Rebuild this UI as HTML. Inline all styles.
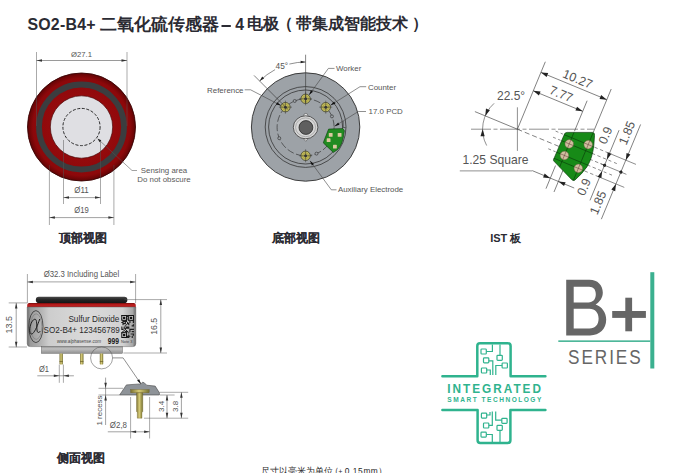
<!DOCTYPE html>
<html><head><meta charset="utf-8"><style>
html,body{margin:0;padding:0;background:#fff;width:682px;height:473px;overflow:hidden}
svg{position:absolute;left:0;top:0;display:block}
</style></head><body>
<svg width="682" height="473" viewBox="0 0 682 473">
<text y="29.3" font-family="Liberation Sans, sans-serif" font-weight="bold" fill="#2b2b33"><tspan x="27.4" y="30" font-size="15.9" letter-spacing="0.25">SO2-B4+</tspan><tspan x="99.5" font-size="16.6">二氧化硫传感器</tspan><tspan x="235.2" y="29.8" font-size="15.8">4</tspan><tspan x="246.5" y="29.3" font-size="16">电极</tspan><tspan x="276.5" font-size="16">（</tspan><tspan x="296" font-size="16.3">带集成智能技术</tspan><tspan x="412" font-size="16">）</tspan></text>
<rect x="221.5" y="25" width="9.3" height="2" fill="#2b2b33"/>
<text x="58.6" y="241.9" font-size="11.6" font-weight="bold" fill="#2b2b33" stroke="#2b2b33" stroke-width="0.1" font-family="Liberation Sans, sans-serif">顶部视图</text>
<text x="271.8" y="241.9" font-size="11.6" font-weight="bold" fill="#2b2b33" stroke="#2b2b33" stroke-width="0.1" font-family="Liberation Sans, sans-serif">底部视图</text>
<text x="490.2" y="242.3" font-weight="bold" fill="#2b2b33" font-family="Liberation Sans, sans-serif"><tspan font-size="11">IST </tspan><tspan font-size="11.4">板</tspan></text>
<text x="57" y="462.2" font-size="11.6" font-weight="bold" fill="#2b2b33" stroke="#2b2b33" stroke-width="0.1" font-family="Liberation Sans, sans-serif">侧面视图</text>
<defs><radialGradient id="redg" cx="81.5" cy="127" r="54" gradientUnits="userSpaceOnUse"><stop offset="0" stop-color="#940a0c"/><stop offset="0.6" stop-color="#940a0c"/><stop offset="0.9" stop-color="#8c080a"/><stop offset="1" stop-color="#600405"/></radialGradient></defs>
<circle cx="81.5" cy="127" r="54" fill="url(#redg)" stroke="#3a0404" stroke-width="0.9"/>
<circle cx="81.5" cy="127" r="42.5" fill="none" stroke="#3b3d3f" stroke-width="5.8"/>
<circle cx="81.5" cy="127" r="31.2" fill="#dfdfe3" stroke="#4a0808" stroke-width="0.7"/>
<circle cx="81.5" cy="127" r="18.6" fill="none" stroke="#151515" stroke-width="0.9" stroke-dasharray="3,1.6"/>
<line x1="36.50" y1="52.00" x2="36.50" y2="126.00" stroke="#555" stroke-width="0.5" />
<line x1="127.00" y1="52.00" x2="127.00" y2="126.00" stroke="#555" stroke-width="0.5" />
<line x1="36.50" y1="60.50" x2="127.00" y2="60.50" stroke="#555" stroke-width="0.6" />
<path d="M36.50,60.50 L42.00,59.25 L42.00,61.75Z" fill="#333"/>
<path d="M127.00,60.50 L121.50,61.75 L121.50,59.25Z" fill="#333"/>
<text x="81.50" y="56.80" font-size="7.9" fill="#555" text-anchor="middle" font-family="Liberation Sans, sans-serif" textLength="21" lengthAdjust="spacingAndGlyphs">Ø27.1</text>
<line x1="63.50" y1="140.00" x2="63.50" y2="204.00" stroke="#555" stroke-width="0.5" />
<line x1="100.50" y1="140.00" x2="100.50" y2="204.00" stroke="#555" stroke-width="0.5" />
<line x1="63.50" y1="197.60" x2="100.50" y2="197.60" stroke="#555" stroke-width="0.55" />
<path d="M63.50,197.60 L69.00,196.35 L69.00,198.85Z" fill="#333"/>
<path d="M100.50,197.60 L95.00,198.85 L95.00,196.35Z" fill="#333"/>
<text x="81.50" y="193.10" font-size="8.3" fill="#555" text-anchor="middle" font-family="Liberation Sans, sans-serif" textLength="14.5" lengthAdjust="spacingAndGlyphs">Ø11</text>
<line x1="49.40" y1="165.00" x2="49.40" y2="225.00" stroke="#555" stroke-width="0.5" />
<line x1="113.90" y1="165.00" x2="113.90" y2="225.00" stroke="#555" stroke-width="0.5" />
<line x1="49.40" y1="217.60" x2="113.90" y2="217.60" stroke="#555" stroke-width="0.55" />
<path d="M49.40,217.60 L54.90,216.35 L54.90,218.85Z" fill="#333"/>
<path d="M113.90,217.60 L108.40,218.85 L108.40,216.35Z" fill="#333"/>
<text x="81.50" y="213.00" font-size="8.3" fill="#555" text-anchor="middle" font-family="Liberation Sans, sans-serif" textLength="14.5" lengthAdjust="spacingAndGlyphs">Ø19</text>
<polyline points="98.5,139.5 132,170.5 137,170.5" fill="none" stroke="#555" stroke-width="0.55"/>
<path d="M97.50,138.50 L101.32,140.27 L99.55,142.17Z" fill="#222"/>
<text x="164.00" y="173.10" font-size="7.9" fill="#5a5a5a" text-anchor="middle" font-family="Liberation Sans, sans-serif" >Sensing area</text>
<text x="164.00" y="181.80" font-size="7.9" fill="#5a5a5a" text-anchor="middle" font-family="Liberation Sans, sans-serif" >Do not obscure</text>
<circle cx="305.6" cy="127" r="54.2" fill="#9da2a7" stroke="#2e2e2e" stroke-width="0.9"/>
<circle cx="305.6" cy="127" r="40.4" fill="none" stroke="#2e2e2e" stroke-width="0.75"/>
<circle cx="305.6" cy="127" r="37" fill="none" stroke="#2e2e2e" stroke-width="0.75"/>
<path d="M343.2,121 L343.2,127.5 L345.5,127.5" fill="none" stroke="#2e2e2e" stroke-width="0.6"/>
<circle cx="305.6" cy="127.3" r="28.5" fill="none" stroke="#2e2e2e" stroke-width="0.65" stroke-dasharray="7,2.5"/>
<circle cx="305.8" cy="115.4" r="2" fill="#e4e4e4" stroke="#444" stroke-width="0.5"/>
<path d="M303.3,138.5 L305.8,141.3 L308.3,138.5 Z" fill="#e4e4e4" stroke="#444" stroke-width="0.5"/>
<ellipse cx="305.6" cy="127.3" rx="12.3" ry="11.5" fill="#d6d6d6" stroke="#3a3a3a" stroke-width="0.8"/>
<ellipse cx="305.6" cy="127.3" rx="10" ry="9.4" fill="none" stroke="#9a9a9a" stroke-width="0.7"/>
<circle cx="305.90000000000003" cy="127.5" r="6.9" fill="#5f5f5f" stroke="#2a2a2a" stroke-width="0.8"/>
<circle cx="294.69" cy="100.97" r="1.5" fill="#9da2a7" stroke="#2a2a2a" stroke-width="0.6"/>
<circle cx="331.93" cy="116.39" r="1.5" fill="#9da2a7" stroke="#2a2a2a" stroke-width="0.6"/>
<circle cx="316.51" cy="153.63" r="1.5" fill="#9da2a7" stroke="#2a2a2a" stroke-width="0.6"/>
<circle cx="279.27" cy="138.21" r="1.5" fill="#9da2a7" stroke="#2a2a2a" stroke-width="0.6"/>
<path d="M328.6,129.1 L342.8,128.6 L344.4,130.7 Q343.6,137.5 341.8,142.9 Q340,147 337.5,149.7 L333.3,152.4 L323.3,142.9 L323.8,141.3 Z" fill="#218b21" stroke="#0e3e0e" stroke-width="0.6"/>
<rect x="328.8" y="133.0" width="3.8" height="3.8" rx="0.6" fill="#dcc8a0"/>
<rect x="337.70000000000005" y="133.0" width="3.8" height="3.8" rx="0.6" fill="#dcc8a0"/>
<rect x="326.70000000000005" y="138.29999999999998" width="3.8" height="3.8" rx="0.6" fill="#dcc8a0"/>
<rect x="333.0" y="144.7" width="3.8" height="3.8" rx="0.6" fill="#dcc8a0"/>
<circle cx="305.60" cy="98.80" r="4.7" fill="#c4be60" stroke="#3a3a20" stroke-width="0.7"/>
<circle cx="305.60" cy="98.80" r="2.9" fill="none" stroke="#a8a040" stroke-width="0.8"/>
<circle cx="305.60" cy="98.80" r="1.5" fill="#3a3a35"/>
<line x1="299.10" y1="98.80" x2="312.10" y2="98.80" stroke="#333" stroke-width="0.5" />
<line x1="305.60" y1="92.30" x2="305.60" y2="105.30" stroke="#333" stroke-width="0.5" />
<circle cx="285.45" cy="107.15" r="4.7" fill="#c4be60" stroke="#3a3a20" stroke-width="0.7"/>
<circle cx="285.45" cy="107.15" r="2.9" fill="none" stroke="#a8a040" stroke-width="0.8"/>
<circle cx="285.45" cy="107.15" r="1.5" fill="#3a3a35"/>
<line x1="278.95" y1="107.15" x2="291.95" y2="107.15" stroke="#333" stroke-width="0.5" />
<line x1="285.45" y1="100.65" x2="285.45" y2="113.65" stroke="#333" stroke-width="0.5" />
<circle cx="325.75" cy="107.15" r="4.7" fill="#c4be60" stroke="#3a3a20" stroke-width="0.7"/>
<circle cx="325.75" cy="107.15" r="2.9" fill="none" stroke="#a8a040" stroke-width="0.8"/>
<circle cx="325.75" cy="107.15" r="1.5" fill="#3a3a35"/>
<line x1="319.25" y1="107.15" x2="332.25" y2="107.15" stroke="#333" stroke-width="0.5" />
<line x1="325.75" y1="100.65" x2="325.75" y2="113.65" stroke="#333" stroke-width="0.5" />
<circle cx="305.60" cy="155.80" r="4.7" fill="#c4be60" stroke="#3a3a20" stroke-width="0.7"/>
<circle cx="305.60" cy="155.80" r="2.9" fill="none" stroke="#a8a040" stroke-width="0.8"/>
<circle cx="305.60" cy="155.80" r="1.5" fill="#3a3a35"/>
<line x1="299.10" y1="155.80" x2="312.10" y2="155.80" stroke="#333" stroke-width="0.5" />
<line x1="305.60" y1="149.30" x2="305.60" y2="162.30" stroke="#333" stroke-width="0.5" />
<line x1="305.60" y1="54.70" x2="305.60" y2="103.00" stroke="#333" stroke-width="0.6" />
<line x1="254.00" y1="75.40" x2="288.00" y2="109.50" stroke="#333" stroke-width="0.6" />
<path d="M259.64,81.04 A65,65 0 0 1 275.08,69.61" fill="none" stroke="#444" stroke-width="0.6"/>
<path d="M289.33,64.07 A65,65 0 0 1 305.60,62.00" fill="none" stroke="#444" stroke-width="0.6"/>
<path d="M259.64,81.04 L262.25,76.58 L264.09,78.42Z" fill="#222"/>
<path d="M305.60,62.00 L300.60,63.30 L300.60,60.70Z" fill="#222"/>
<text x="281.80" y="68.60" font-size="8.3" fill="#555" text-anchor="middle" font-family="Liberation Sans, sans-serif" >45°</text>
<polyline points="244.70,89.80 250.60,89.80 281.00,105.60" fill="none" stroke="#444" stroke-width="0.6"/>
<path d="M281.00,105.60 L275.96,104.45 L277.16,102.14Z" fill="#111"/>
<text x="243.50" y="93.40" font-size="7.9" fill="#555" text-anchor="end" font-family="Liberation Sans, sans-serif" >Reference</text>
<polyline points="334.50,68.40 328.40,68.40 309.00,95.00" fill="none" stroke="#444" stroke-width="0.6"/>
<path d="M309.00,95.00 L310.90,90.19 L313.00,91.73Z" fill="#111"/>
<text x="336.00" y="71.30" font-size="7.9" fill="#555" text-anchor="start" font-family="Liberation Sans, sans-serif" >Worker</text>
<polyline points="366.20,86.70 360.00,86.70 330.50,105.30" fill="none" stroke="#444" stroke-width="0.6"/>
<path d="M330.50,105.30 L334.04,101.53 L335.42,103.73Z" fill="#111"/>
<text x="368.00" y="89.60" font-size="7.9" fill="#555" text-anchor="start" font-family="Liberation Sans, sans-serif" >Counter</text>
<polyline points="366.00,111.50 358.30,111.50 334.60,126.30" fill="none" stroke="#444" stroke-width="0.6"/>
<path d="M334.60,126.30 L338.15,122.55 L339.53,124.75Z" fill="#111"/>
<text x="368.60" y="114.40" font-size="7.9" fill="#555" text-anchor="start" font-family="Liberation Sans, sans-serif" >17.0 PCD</text>
<polyline points="336.50,189.80 331.30,189.80 310.00,160.80" fill="none" stroke="#444" stroke-width="0.6"/>
<path d="M310.00,160.80 L314.01,164.06 L311.91,165.60Z" fill="#111"/>
<text x="337.90" y="192.30" font-size="7.9" fill="#555" text-anchor="start" font-family="Liberation Sans, sans-serif" >Auxiliary Electrode</text>
<line x1="471.00" y1="129.20" x2="594.00" y2="129.20" stroke="#555" stroke-width="0.65" stroke-dasharray="20,2.5,4,2.5"/>
<line x1="517.40" y1="107.30" x2="517.40" y2="150.90" stroke="#444" stroke-width="0.6" />
<path d="M494.11,103.34 A34.8,34.8 0 0 0 486.67,145.54" fill="none" stroke="#444" stroke-width="0.6"/>
<path d="M485.25,115.88 L485.99,108.61 L489.87,110.22Z" fill="#222"/>
<path d="M482.60,129.20 L484.70,136.20 L480.50,136.20Z" fill="#222"/>
<text x="497.00" y="100.20" font-size="12" fill="#555" text-anchor="start" font-family="Liberation Sans, sans-serif" >22.5°</text>
<line x1="459.80" y1="170.90" x2="532.00" y2="170.90" stroke="#444" stroke-width="0.6" />
<text x="462.50" y="164.10" font-size="12.1" fill="#555" text-anchor="start" font-family="Liberation Sans, sans-serif" >1.25 Square</text>
<g transform="translate(517.4,129.2) rotate(22.5)">
<line x1="-46.00" y1="0.00" x2="0.00" y2="0.00" stroke="#444" stroke-width="0.6" />
<line x1="0.00" y1="0.00" x2="52.00" y2="0.00" stroke="#444" stroke-width="0.6" stroke-dasharray="5,3"/>
<line x1="0.00" y1="0.00" x2="0.00" y2="-73.00" stroke="#444" stroke-width="0.6" />
<line x1="0.00" y1="-61.50" x2="71.30" y2="-61.50" stroke="#444" stroke-width="0.6" />
<path d="M0.00,-61.50 L7.00,-63.60 L7.00,-59.40Z" fill="#222"/>
<path d="M71.30,-61.50 L64.30,-59.40 L64.30,-63.60Z" fill="#222"/>
<line x1="71.30" y1="-26.00" x2="71.30" y2="-73.00" stroke="#444" stroke-width="0.6" />
<text x="36.5" y="-65.1" font-size="12.4" fill="#555" text-anchor="middle" font-family="Liberation Sans, sans-serif">10.27</text>
<line x1="0.00" y1="-41.50" x2="53.50" y2="-41.50" stroke="#444" stroke-width="0.6" />
<path d="M0.00,-41.50 L7.00,-43.60 L7.00,-39.40Z" fill="#222"/>
<path d="M53.50,-41.50 L46.50,-39.40 L46.50,-43.60Z" fill="#222"/>
<line x1="53.50" y1="-20.00" x2="53.50" y2="-53.00" stroke="#444" stroke-width="0.6" />
<text x="27" y="-45.1" font-size="12.4" fill="#555" text-anchor="middle" font-family="Liberation Sans, sans-serif">7.77</text>
<line x1="49.15" y1="19.00" x2="49.15" y2="44.00" stroke="#444" stroke-width="0.6" />
<line x1="57.85" y1="19.00" x2="57.85" y2="44.00" stroke="#444" stroke-width="0.6" />
<line x1="29.50" y1="32.60" x2="75.00" y2="32.60" stroke="#444" stroke-width="0.6" />
<path d="M49.15,32.60 L42.15,34.70 L42.15,30.50Z" fill="#222"/>
<path d="M57.85,32.60 L64.85,30.50 L64.85,34.70Z" fill="#222"/>
<line x1="78.00" y1="-12.86" x2="96.00" y2="-12.86" stroke="#444" stroke-width="0.55" stroke-dasharray="3.5,2.5"/>
<line x1="78.00" y1="-6.26" x2="96.00" y2="-6.26" stroke="#444" stroke-width="0.55" stroke-dasharray="3.5,2.5"/>
<line x1="78.00" y1="0.00" x2="96.00" y2="0.00" stroke="#444" stroke-width="0.55" stroke-dasharray="3.5,2.5"/>
<line x1="78.00" y1="6.26" x2="96.00" y2="6.26" stroke="#444" stroke-width="0.55" stroke-dasharray="3.5,2.5"/>
<line x1="78.00" y1="12.86" x2="96.00" y2="12.86" stroke="#444" stroke-width="0.55" stroke-dasharray="3.5,2.5"/>
<line x1="96.00" y1="-12.86" x2="123.00" y2="-12.86" stroke="#444" stroke-width="0.55" />
<line x1="90.00" y1="0.00" x2="118.00" y2="0.00" stroke="#444" stroke-width="0.55" />
<line x1="96.00" y1="12.86" x2="121.00" y2="12.86" stroke="#444" stroke-width="0.55" />
<line x1="96.00" y1="-6.26" x2="108.00" y2="-6.26" stroke="#444" stroke-width="0.55" stroke-dasharray="3,3"/>
<line x1="96.00" y1="6.26" x2="108.00" y2="6.26" stroke="#444" stroke-width="0.55" stroke-dasharray="3,3"/>
<line x1="94.30" y1="-38.00" x2="94.30" y2="0.00" stroke="#444" stroke-width="0.6" />
<path d="M94.30,-6.26 L92.20,-13.26 L96.40,-13.26Z" fill="#222"/>
<circle cx="94.3" cy="0" r="1.6" fill="#222"/>
<line x1="94.30" y1="38.00" x2="94.30" y2="6.26" stroke="#444" stroke-width="0.6" />
<path d="M94.30,6.26 L96.40,13.26 L92.20,13.26Z" fill="#222"/>
<line x1="94.30" y1="0.00" x2="94.30" y2="6.26" stroke="#444" stroke-width="0.6" />
<line x1="112.00" y1="-51.50" x2="112.00" y2="0.00" stroke="#444" stroke-width="0.6" />
<path d="M112.00,-12.86 L109.90,-19.86 L114.10,-19.86Z" fill="#222"/>
<circle cx="112" cy="0" r="1.6" fill="#222"/>
<line x1="112.00" y1="51.00" x2="112.00" y2="12.86" stroke="#444" stroke-width="0.6" />
<path d="M112.00,12.86 L114.10,19.86 L109.90,19.86Z" fill="#222"/>
<line x1="112.00" y1="0.00" x2="112.00" y2="12.86" stroke="#444" stroke-width="0.6" />
<text transform="translate(87.8,-28) rotate(-90)" font-size="12.4" fill="#555" text-anchor="middle" font-family="Liberation Sans, sans-serif">0.9</text>
<text transform="translate(87.8,28) rotate(-90)" font-size="12.4" fill="#555" text-anchor="middle" font-family="Liberation Sans, sans-serif">0.9</text>
<text transform="translate(106.8,-38.5) rotate(-90)" font-size="12.4" fill="#555" text-anchor="middle" font-family="Liberation Sans, sans-serif">1.85</text>
<text transform="translate(106.8,37) rotate(-90)" font-size="12.4" fill="#555" text-anchor="middle" font-family="Liberation Sans, sans-serif">1.85</text>
</g>
<path d="M564,135.2 Q564.5,132.4 567.2,132.4 L592.6,132.4 Q594.8,132.6 594.5,135.5 L593.8,145.3 Q592.5,158 586.9,166.9 Q582,174 574.8,180.2 Q573,181 571.6,179.5 L553.6,160.8 Q553,159.5 554.5,157.3 Z" fill="#178a17" stroke="#0b3d0b" stroke-width="0.7"/>
<clipPath id="pcbclip"><path d="M564,135.2 Q564.5,132.4 567.2,132.4 L592.6,132.4 Q594.8,132.6 594.5,135.5 L593.8,145.3 Q592.5,158 586.9,166.9 Q582,174 574.8,180.2 Q573,181 571.6,179.5 L553.6,160.8 Q553,159.5 554.5,157.3 Z"/></clipPath>
<g clip-path="url(#pcbclip)"><g transform="translate(517.4,129.2) rotate(22.5)">
<line x1="40.00" y1="-12.86" x2="84.00" y2="-12.86" stroke="#0b3f0b" stroke-width="0.6" />
<line x1="40.00" y1="-6.26" x2="84.00" y2="-6.26" stroke="#0b3f0b" stroke-width="0.6" />
<line x1="40.00" y1="6.26" x2="84.00" y2="6.26" stroke="#0b3f0b" stroke-width="0.6" />
<line x1="40.00" y1="12.86" x2="84.00" y2="12.86" stroke="#0b3f0b" stroke-width="0.6" />
<line x1="53.50" y1="30.00" x2="53.50" y2="-30.00" stroke="#0b3f0b" stroke-width="0.6" />
<line x1="71.30" y1="30.00" x2="71.30" y2="-30.00" stroke="#0b3f0b" stroke-width="0.6" />
</g></g>
<g transform="translate(517.4,129.2) rotate(22.5)">
<circle cx="53.5" cy="-6.26" r="4.3" fill="#cfbf9e" stroke="#6a5a40" stroke-width="0.4"/>
<line x1="49.50" y1="-6.26" x2="57.50" y2="-6.26" stroke="#6b3b3b" stroke-width="0.5" />
<line x1="53.50" y1="-10.26" x2="53.50" y2="-2.26" stroke="#6b3b3b" stroke-width="0.5" />
<circle cx="53.5" cy="6.26" r="4.3" fill="#cfbf9e" stroke="#6a5a40" stroke-width="0.4"/>
<line x1="49.50" y1="6.26" x2="57.50" y2="6.26" stroke="#6b3b3b" stroke-width="0.5" />
<line x1="53.50" y1="2.26" x2="53.50" y2="10.26" stroke="#6b3b3b" stroke-width="0.5" />
<circle cx="71.3" cy="-12.86" r="4.3" fill="#cfbf9e" stroke="#6a5a40" stroke-width="0.4"/>
<line x1="67.30" y1="-12.86" x2="75.30" y2="-12.86" stroke="#6b3b3b" stroke-width="0.5" />
<line x1="71.30" y1="-16.86" x2="71.30" y2="-8.86" stroke="#6b3b3b" stroke-width="0.5" />
<circle cx="71.3" cy="12.86" r="4.3" fill="#cfbf9e" stroke="#6a5a40" stroke-width="0.4"/>
<line x1="67.30" y1="12.86" x2="75.30" y2="12.86" stroke="#6b3b3b" stroke-width="0.5" />
<line x1="71.30" y1="8.86" x2="71.30" y2="16.86" stroke="#6b3b3b" stroke-width="0.5" />
<line x1="36.00" y1="-12.86" x2="44.00" y2="-12.86" stroke="#444" stroke-width="0.55" stroke-dasharray="3,2.5"/>
<line x1="36.00" y1="-6.26" x2="44.00" y2="-6.26" stroke="#444" stroke-width="0.55" stroke-dasharray="3,2.5"/>
<line x1="36.00" y1="6.26" x2="44.00" y2="6.26" stroke="#444" stroke-width="0.55" stroke-dasharray="3,2.5"/>
</g>
<defs><linearGradient id="body" x1="0" x2="1" y1="0" y2="0"><stop offset="0" stop-color="#6e6e6e"/><stop offset="0.03" stop-color="#9a9a9a"/><stop offset="0.14" stop-color="#b8b8b8"/><stop offset="0.2" stop-color="#cdcdcd"/><stop offset="0.55" stop-color="#dadada"/><stop offset="0.88" stop-color="#d2d2d2"/><stop offset="0.97" stop-color="#a8a8a8"/><stop offset="1" stop-color="#6a6a6a"/></linearGradient><linearGradient id="lip" x1="0" x2="0" y1="0" y2="1"><stop offset="0" stop-color="#9a9a9a"/><stop offset="0.3" stop-color="#c0c0c0"/><stop offset="1" stop-color="#909090"/></linearGradient><linearGradient id="gold" x1="0" x2="1"><stop offset="0" stop-color="#7a7030"/><stop offset="0.45" stop-color="#d8cc78"/><stop offset="1" stop-color="#747030"/></linearGradient><linearGradient id="gask" x1="0" x2="0" y1="0" y2="1"><stop offset="0" stop-color="#4a4a4a"/><stop offset="0.45" stop-color="#262626"/><stop offset="1" stop-color="#151515"/></linearGradient><linearGradient id="redb" x1="0" x2="0" y1="0" y2="1"><stop offset="0" stop-color="#6a0a0a"/><stop offset="0.3" stop-color="#b01a1a"/><stop offset="0.8" stop-color="#c02020"/><stop offset="1" stop-color="#8a1414"/></linearGradient></defs>
<line x1="27.40" y1="274.00" x2="27.40" y2="303.00" stroke="#555" stroke-width="0.5" />
<line x1="135.60" y1="274.00" x2="135.60" y2="303.00" stroke="#555" stroke-width="0.5" />
<line x1="27.40" y1="281.90" x2="135.60" y2="281.90" stroke="#555" stroke-width="0.55" />
<path d="M27.40,281.90 L32.90,280.65 L32.90,283.15Z" fill="#333"/>
<path d="M135.60,281.90 L130.10,283.15 L130.10,280.65Z" fill="#333"/>
<text x="81.40" y="277.40" font-size="8.7" fill="#555" text-anchor="middle" font-family="Liberation Sans, sans-serif" textLength="75.5" lengthAdjust="spacingAndGlyphs">Ø32.3 Including Label</text>
<rect x="35.8" y="296.8" width="91.6" height="6.3" rx="3.1" fill="url(#gask)"/>
<path d="M27.2,307.2 L27.2,305 Q27.2,302.9 29.4,302.9 L133.6,302.9 Q135.8,302.9 135.8,305 L135.8,307.2 Z" fill="url(#redb)"/>
<path d="M27.2,307 L135.8,307 L135.8,343.4 Q135.8,346.6 132.6,346.6 L30.4,346.6 Q27.2,346.6 27.2,343.4 Z" fill="url(#body)" stroke="#5a5a5a" stroke-width="0.45"/>
<rect x="41.3" y="346.8" width="81.2" height="6.6" fill="url(#lip)" stroke="#555" stroke-width="0.4"/>
<rect x="59.5" y="353.4" width="3.4" height="11" rx="0.6" fill="url(#gold)"/>
<rect x="59.5" y="361" width="3.4" height="0.7" fill="#6a6028"/>
<rect x="80.1" y="353.4" width="3.4" height="11" rx="0.6" fill="url(#gold)"/>
<rect x="80.1" y="361" width="3.4" height="0.7" fill="#6a6028"/>
<rect x="99.8" y="353.4" width="3.4" height="11" rx="0.6" fill="url(#gold)"/>
<rect x="99.8" y="361" width="3.4" height="0.7" fill="#6a6028"/>
<ellipse cx="35.9" cy="326.6" rx="7.1" ry="16" fill="none" stroke="#2a2a2a" stroke-width="0.75"/>
<ellipse cx="36.2" cy="326.6" rx="5.6" ry="12.8" fill="none" stroke="#707070" stroke-width="0.5"/>
<path d="M39.6,319.4 C37.6,325 35.5,331 32.6,333.6 C30.8,335 29.3,332.6 29.8,328.5 C30.4,323.5 32.8,319.2 35,319.2 C37.2,319.2 36.6,326 37,330 C37.3,333 38.6,333.2 40.2,331.4" fill="none" stroke="#161616" stroke-width="0.95" stroke-linecap="round"/>
<text x="68.4" y="322.3" font-size="9.2" fill="#2a2a2a" textLength="51" lengthAdjust="spacingAndGlyphs" font-family="Liberation Sans, sans-serif">Sulfur Dioxide</text>
<text x="43.6" y="333.4" font-size="9.6" fill="#2a2a2a" textLength="76.2" lengthAdjust="spacingAndGlyphs" font-family="Liberation Sans, sans-serif">SO2-B4+ 123456789</text>
<text x="57" y="343" font-size="4.8" font-style="italic" fill="#444" textLength="44" lengthAdjust="spacingAndGlyphs" font-family="Liberation Sans, sans-serif">www.alphasense.com</text>
<text x="107.7" y="343.6" font-size="9.6" fill="#1a1a1a" font-weight="bold" textLength="11.2" lengthAdjust="spacingAndGlyphs" font-family="Liberation Sans, sans-serif">999</text>
<text x="121" y="342.6" font-size="3.8" fill="#444" textLength="11.4" lengthAdjust="spacingAndGlyphs" font-family="Liberation Sans, sans-serif">Note 3</text>
<path d="M121.30,315.00h1.15v1.15h-1.15zM121.30,318.45h1.15v1.15h-1.15zM121.30,321.90h1.15v1.15h-1.15zM121.30,326.50h1.15v1.15h-1.15zM121.30,327.65h1.15v1.15h-1.15zM121.30,328.80h1.15v1.15h-1.15zM121.30,332.25h1.15v1.15h-1.15zM122.45,315.00h1.15v1.15h-1.15zM122.45,316.15h1.15v1.15h-1.15zM122.45,318.45h1.15v1.15h-1.15zM122.45,319.60h1.15v1.15h-1.15zM122.45,320.75h1.15v1.15h-1.15zM122.45,321.90h1.15v1.15h-1.15zM122.45,323.05h1.15v1.15h-1.15zM122.45,324.20h1.15v1.15h-1.15zM122.45,328.80h1.15v1.15h-1.15zM122.45,331.10h1.15v1.15h-1.15zM122.45,332.25h1.15v1.15h-1.15zM123.60,315.00h1.15v1.15h-1.15zM123.60,316.15h1.15v1.15h-1.15zM123.60,317.30h1.15v1.15h-1.15zM123.60,318.45h1.15v1.15h-1.15zM123.60,320.75h1.15v1.15h-1.15zM123.60,323.05h1.15v1.15h-1.15zM123.60,326.50h1.15v1.15h-1.15zM123.60,327.65h1.15v1.15h-1.15zM123.60,329.95h1.15v1.15h-1.15zM123.60,332.25h1.15v1.15h-1.15zM123.60,333.40h1.15v1.15h-1.15zM123.60,336.85h1.15v1.15h-1.15zM124.75,315.00h1.15v1.15h-1.15zM124.75,316.15h1.15v1.15h-1.15zM124.75,319.60h1.15v1.15h-1.15zM124.75,320.75h1.15v1.15h-1.15zM124.75,321.90h1.15v1.15h-1.15zM124.75,323.05h1.15v1.15h-1.15zM124.75,325.35h1.15v1.15h-1.15zM124.75,327.65h1.15v1.15h-1.15zM124.75,328.80h1.15v1.15h-1.15zM124.75,331.10h1.15v1.15h-1.15zM124.75,333.40h1.15v1.15h-1.15zM124.75,334.55h1.15v1.15h-1.15zM124.75,335.70h1.15v1.15h-1.15zM124.75,336.85h1.15v1.15h-1.15zM125.90,317.30h1.15v1.15h-1.15zM125.90,319.60h1.15v1.15h-1.15zM125.90,320.75h1.15v1.15h-1.15zM125.90,324.20h1.15v1.15h-1.15zM125.90,326.50h1.15v1.15h-1.15zM125.90,327.65h1.15v1.15h-1.15zM125.90,329.95h1.15v1.15h-1.15zM125.90,331.10h1.15v1.15h-1.15zM125.90,332.25h1.15v1.15h-1.15zM125.90,333.40h1.15v1.15h-1.15zM125.90,335.70h1.15v1.15h-1.15zM127.05,315.00h1.15v1.15h-1.15zM127.05,316.15h1.15v1.15h-1.15zM127.05,318.45h1.15v1.15h-1.15zM127.05,321.90h1.15v1.15h-1.15zM127.05,323.05h1.15v1.15h-1.15zM127.05,326.50h1.15v1.15h-1.15zM127.05,327.65h1.15v1.15h-1.15zM127.05,331.10h1.15v1.15h-1.15zM127.05,335.70h1.15v1.15h-1.15zM127.05,336.85h1.15v1.15h-1.15zM128.20,315.00h1.15v1.15h-1.15zM128.20,317.30h1.15v1.15h-1.15zM128.20,319.60h1.15v1.15h-1.15zM128.20,323.05h1.15v1.15h-1.15zM128.20,324.20h1.15v1.15h-1.15zM128.20,326.50h1.15v1.15h-1.15zM128.20,327.65h1.15v1.15h-1.15zM128.20,332.25h1.15v1.15h-1.15zM128.20,334.55h1.15v1.15h-1.15zM128.20,335.70h1.15v1.15h-1.15zM128.20,336.85h1.15v1.15h-1.15zM129.35,315.00h1.15v1.15h-1.15zM129.35,316.15h1.15v1.15h-1.15zM129.35,317.30h1.15v1.15h-1.15zM129.35,318.45h1.15v1.15h-1.15zM129.35,320.75h1.15v1.15h-1.15zM129.35,321.90h1.15v1.15h-1.15zM129.35,328.80h1.15v1.15h-1.15zM129.35,329.95h1.15v1.15h-1.15zM129.35,331.10h1.15v1.15h-1.15zM129.35,335.70h1.15v1.15h-1.15zM130.50,315.00h1.15v1.15h-1.15zM130.50,317.30h1.15v1.15h-1.15zM130.50,319.60h1.15v1.15h-1.15zM130.50,328.80h1.15v1.15h-1.15zM130.50,333.40h1.15v1.15h-1.15zM131.65,316.15h1.15v1.15h-1.15zM131.65,319.60h1.15v1.15h-1.15zM131.65,325.35h1.15v1.15h-1.15zM131.65,328.80h1.15v1.15h-1.15zM131.65,331.10h1.15v1.15h-1.15zM131.65,333.40h1.15v1.15h-1.15zM131.65,335.70h1.15v1.15h-1.15zM131.65,336.85h1.15v1.15h-1.15zM132.80,316.15h1.15v1.15h-1.15zM132.80,319.60h1.15v1.15h-1.15zM132.80,320.75h1.15v1.15h-1.15zM132.80,321.90h1.15v1.15h-1.15zM132.80,324.20h1.15v1.15h-1.15zM132.80,325.35h1.15v1.15h-1.15zM132.80,328.80h1.15v1.15h-1.15zM132.80,331.10h1.15v1.15h-1.15zM132.80,333.40h1.15v1.15h-1.15zM132.80,334.55h1.15v1.15h-1.15z" fill="#1e1e1e"/>
<rect x="121.8" y="315.5" width="4.75" height="4.75" fill="#d0d0d0" stroke="#111" stroke-width="1"/><rect x="123.05" y="316.75" width="2.25" height="2.25" fill="#111"/>
<rect x="128.7" y="315.5" width="4.75" height="4.75" fill="#d0d0d0" stroke="#111" stroke-width="1"/><rect x="129.95" y="316.75" width="2.25" height="2.25" fill="#111"/>
<rect x="121.8" y="332.75" width="4.75" height="4.75" fill="#d0d0d0" stroke="#111" stroke-width="1"/><rect x="123.05" y="334.0" width="2.25" height="2.25" fill="#111"/>
<line x1="8.70" y1="302.90" x2="27.00" y2="302.90" stroke="#555" stroke-width="0.5" />
<line x1="8.70" y1="347.00" x2="27.00" y2="347.00" stroke="#555" stroke-width="0.5" />
<line x1="16.20" y1="302.90" x2="16.20" y2="347.20" stroke="#555" stroke-width="0.55" />
<path d="M16.20,302.90 L17.45,308.40 L14.95,308.40Z" fill="#333"/>
<path d="M16.20,347.20 L14.95,341.70 L17.45,341.70Z" fill="#333"/>
<text transform="translate(12.4,324.8) rotate(-90)" font-size="9" fill="#555" text-anchor="middle" font-family="Liberation Sans, sans-serif">13.5</text>
<line x1="124.50" y1="299.60" x2="167.00" y2="299.60" stroke="#555" stroke-width="0.5" />
<line x1="123.40" y1="353.00" x2="167.00" y2="353.00" stroke="#555" stroke-width="0.5" />
<line x1="160.80" y1="299.60" x2="160.80" y2="353.00" stroke="#555" stroke-width="0.55" />
<path d="M160.80,299.60 L162.05,305.10 L159.55,305.10Z" fill="#333"/>
<path d="M160.80,353.00 L159.55,347.50 L162.05,347.50Z" fill="#333"/>
<text transform="translate(157.4,326.3) rotate(-90)" font-size="8.6" fill="#555" text-anchor="middle" font-family="Liberation Sans, sans-serif">16.5</text>
<line x1="59.30" y1="364.60" x2="59.30" y2="382.80" stroke="#555" stroke-width="0.5" />
<line x1="63.40" y1="364.60" x2="63.40" y2="382.80" stroke="#555" stroke-width="0.5" />
<line x1="37.30" y1="375.80" x2="73.90" y2="375.80" stroke="#555" stroke-width="0.55" />
<path d="M59.30,375.80 L53.80,377.05 L53.80,374.55Z" fill="#333"/>
<path d="M63.40,375.80 L68.90,374.55 L68.90,377.05Z" fill="#333"/>
<text x="39.00" y="372.30" font-size="9.4" fill="#555" text-anchor="start" font-family="Liberation Sans, sans-serif" textLength="10" lengthAdjust="spacingAndGlyphs">Ø1</text>
<circle cx="101.6" cy="357.9" r="11" fill="none" stroke="#555" stroke-width="0.55"/>
<polyline points="112.60,357.90 123.10,357.90 141.00,384.00" fill="none" stroke="#444" stroke-width="0.6"/>
<path d="M141.00,384.00 L137.10,380.61 L139.24,379.14Z" fill="#111"/>
<path d="M119.6,395 L126.4,384.9 L140.8,383.9 L142.5,382.2 L144.2,382.7 L146.7,385.2 L155.2,386.1 L159.4,392.8 L159.4,395 Z" fill="#8e9398" stroke="#444" stroke-width="0.6"/>
<rect x="130.6" y="389.5" width="18.6" height="3.3" fill="url(#gold)" stroke="#6a5a20" stroke-width="0.3"/>
<path d="M136.5,392.8 L142.8,392.8 L142.8,411.5 L142,412.5 L142,418.2 L137.3,418.2 L137.3,412.5 L136.5,411.5 Z" fill="url(#gold)" stroke="#6a5a20" stroke-width="0.3"/>
<line x1="98.50" y1="388.30" x2="123.00" y2="388.30" stroke="#555" stroke-width="0.5" />
<line x1="98.50" y1="395.00" x2="119.60" y2="395.00" stroke="#555" stroke-width="0.5" />
<line x1="105.60" y1="377.60" x2="105.60" y2="425.00" stroke="#555" stroke-width="0.55" />
<path d="M105.60,388.30 L104.35,382.80 L106.85,382.80Z" fill="#333"/>
<path d="M105.60,395.00 L106.85,400.50 L104.35,400.50Z" fill="#333"/>
<text transform="translate(101.8,410.5) rotate(-90)" font-size="8" fill="#555" text-anchor="middle" font-family="Liberation Sans, sans-serif">1 recess</text>
<line x1="130.60" y1="397.00" x2="130.60" y2="438.50" stroke="#555" stroke-width="0.5" />
<line x1="149.60" y1="397.00" x2="149.60" y2="438.50" stroke="#555" stroke-width="0.5" />
<line x1="107.80" y1="431.80" x2="149.60" y2="431.80" stroke="#555" stroke-width="0.55" />
<path d="M130.60,431.80 L136.10,430.55 L136.10,433.05Z" fill="#333"/>
<path d="M149.60,431.80 L144.10,433.05 L144.10,430.55Z" fill="#333"/>
<text x="109.80" y="427.60" font-size="8.6" fill="#555" text-anchor="start" font-family="Liberation Sans, sans-serif" textLength="17.2" lengthAdjust="spacingAndGlyphs">Ø2,8</text>
<line x1="159.40" y1="392.30" x2="188.20" y2="392.30" stroke="#555" stroke-width="0.5" />
<line x1="144.00" y1="418.20" x2="188.20" y2="418.20" stroke="#555" stroke-width="0.5" />
<line x1="160.00" y1="395.00" x2="174.60" y2="395.00" stroke="#555" stroke-width="0.5" />
<line x1="167.00" y1="395.00" x2="167.00" y2="418.20" stroke="#555" stroke-width="0.55" />
<path d="M167.00,395.00 L168.25,400.50 L165.75,400.50Z" fill="#333"/>
<path d="M167.00,418.20 L165.75,412.70 L168.25,412.70Z" fill="#333"/>
<line x1="181.40" y1="392.30" x2="181.40" y2="418.20" stroke="#555" stroke-width="0.55" />
<path d="M181.40,392.30 L182.65,397.80 L180.15,397.80Z" fill="#333"/>
<path d="M181.40,418.20 L180.15,412.70 L182.65,412.70Z" fill="#333"/>
<text transform="translate(163.8,406.4) rotate(-90)" font-size="8" fill="#555" text-anchor="middle" font-family="Liberation Sans, sans-serif">3.4</text>
<text transform="translate(178.2,406.4) rotate(-90)" font-size="8" fill="#555" text-anchor="middle" font-family="Liberation Sans, sans-serif">3.8</text>
<rect x="650.3" y="272.2" width="4" height="96.3" fill="#3bb08f"/>
<rect x="558.3" y="340.4" width="92" height="1.5" fill="#3bb08f"/>
<path fill-rule="evenodd" fill="#666" d="M566.2,279.8 H589.5 C597.6,279.8 602.8,285.2 602.8,292.6 C602.8,297.8 600,301.8 595.6,304.6 C601.8,306.8 606.2,312.4 606.2,319.6 C606.2,329 599.6,335.5 590,335.5 H566.2 Z M573.7,286.7 H589 C593.6,286.7 595.8,289.6 595.8,294.2 C595.8,299 593.2,302.4 588.4,302.4 H573.7 Z M573.7,308.7 H589.4 C595.2,308.7 598.6,312.6 598.6,318.6 C598.6,324.8 595.2,328.6 589.4,328.6 H573.7 Z"/>
<rect x="612.2" y="311" width="33.7" height="6.9" fill="#666"/><rect x="625.3" y="297.7" width="6.8" height="33.6" fill="#666"/>
<text transform="translate(568,363.5) scale(0.85,1)" font-size="20.2" fill="#666" letter-spacing="2.3" font-family="Liberation Sans, sans-serif">SERIES</text>
<path d="M442.4,376.3 L477.3,376.3 L477.3,346 Q477.3,343.3 480,343.3 L507.9,343.3 Q510.6,343.3 510.6,346 L510.6,376.3 L545.4,376.3" fill="none" stroke="#2fb38e" stroke-width="2.5" stroke-linecap="round" stroke-linejoin="round"/>
<path d="M442.4,410 L477.6,410 L477.6,440.3 Q477.6,443 480.3,443 L507.7,443 Q510.4,443 510.4,440.3 L510.4,410 L545.4,410" fill="none" stroke="#2fb38e" stroke-width="2.5" stroke-linecap="round" stroke-linejoin="round"/>
<text transform="translate(447.3,392.7) scale(0.95,1)" font-size="12.4" font-weight="bold" fill="#2fb38e" textLength="98.6" lengthAdjust="spacing" font-family="Liberation Sans, sans-serif">INTEGRATED</text>
<text transform="translate(447.3,402.4) scale(0.95,1)" font-size="6.9" font-weight="bold" fill="#2fb38e" textLength="99" lengthAdjust="spacing" font-family="Liberation Sans, sans-serif">SMART TECHNOLOGY</text>
<rect x="481" y="349" width="5.3" height="5" rx="0.8" fill="none" stroke="#2fb38e" stroke-width="1.2"/>
<polyline points="486.3,351.5 492.4,351.5 492.4,344.5" fill="none" stroke="#2fb38e" stroke-width="1.2"/>
<polyline points="500,344.5 500,355.3" fill="none" stroke="#2fb38e" stroke-width="1.2"/>
<rect x="497" y="355.3" width="5.3" height="5" rx="0.8" fill="none" stroke="#2fb38e" stroke-width="1.2"/>
<rect x="483.5" y="357.9" width="5.3" height="5" rx="0.8" fill="none" stroke="#2fb38e" stroke-width="1.2"/>
<polyline points="488.8,360.8 492.8,360.8 492.8,375" fill="none" stroke="#2fb38e" stroke-width="1.2"/>
<rect x="502.1" y="363" width="5.3" height="5" rx="0.8" fill="none" stroke="#2fb38e" stroke-width="1.2"/>
<polyline points="502.1,365.5 495.8,365.5 495.8,375" fill="none" stroke="#2fb38e" stroke-width="1.2"/>
<rect x="481.4" y="368" width="5.3" height="5" rx="0.8" fill="none" stroke="#2fb38e" stroke-width="1.2"/>
<polyline points="486.7,370 490.3,370 490.3,375" fill="none" stroke="#2fb38e" stroke-width="1.2"/>
<rect x="481.4" y="413.1" width="5.3" height="5" rx="0.8" fill="none" stroke="#2fb38e" stroke-width="1.2"/>
<polyline points="486.7,415 490,415 490,412" fill="none" stroke="#2fb38e" stroke-width="1.2"/>
<polyline points="492.3,411.5 492.3,425.4 489,425.4" fill="none" stroke="#2fb38e" stroke-width="1.2"/>
<rect x="483.5" y="423" width="5.3" height="5" rx="0.8" fill="none" stroke="#2fb38e" stroke-width="1.2"/>
<polyline points="495.7,411.5 495.7,420.2 501.8,420.2" fill="none" stroke="#2fb38e" stroke-width="1.2"/>
<rect x="501.8" y="418.3" width="5.3" height="5" rx="0.8" fill="none" stroke="#2fb38e" stroke-width="1.2"/>
<rect x="497" y="425.4" width="5.3" height="5" rx="0.8" fill="none" stroke="#2fb38e" stroke-width="1.2"/>
<polyline points="500,430.4 500,442" fill="none" stroke="#2fb38e" stroke-width="1.2"/>
<rect x="481" y="432.1" width="5.3" height="5" rx="0.8" fill="none" stroke="#2fb38e" stroke-width="1.2"/>
<polyline points="486.3,434.5 492.3,434.5 492.3,442" fill="none" stroke="#2fb38e" stroke-width="1.2"/>
<text y="473.6" font-size="9.1" fill="#2a2a2a" font-family="Liberation Sans, sans-serif"><tspan x="261">尺寸以毫米为单位</tspan><tspan x="330">（</tspan><tspan x="338.6" font-size="7">±</tspan><tspan x="344.8" font-size="8.4" letter-spacing="0.5">0.15</tspan><tspan x="363.6" font-size="8.4" letter-spacing="0.3">mm</tspan><tspan x="378">）</tspan><tspan x="384.5">。</tspan></text>
</svg></body></html>
